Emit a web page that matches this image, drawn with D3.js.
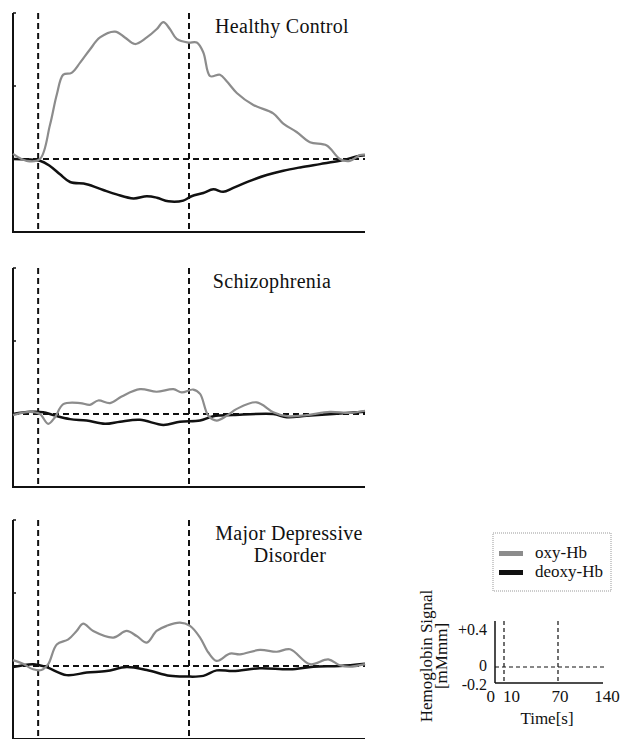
<!DOCTYPE html>
<html>
<head>
<meta charset="utf-8">
<script src="https://cdn.jsdelivr.net/npm/d3@7"></script>
</head>
<body style="margin:0">
<div id="chart"></div>
<script>
var width = 623, height = 739;
var serif = "'Liberation Serif'";

// time [s], signal [mM mm]
var groups = ["Healthy Control", "Schizophrenia", "Major Depressive Disorder"];
var markers = [10, 70];
var yTicks = [0.2, 0.4];

var hcOxy = [[0,0.014],[5.4,-0.005],[10.7,0],[14.7,0.093],[17.4,0.176],[20,0.231],[23.3,0.236],[26.7,0.264],[30.6,0.30],[34.6,0.333],[40.6,0.349],[44.5,0.333],[48.5,0.315],[53.2,0.333],[57.2,0.356],[59.8,0.375],[62.4,0.356],[65.1,0.329],[69.7,0.319],[73.1,0.319],[75.7,0.292],[78.4,0.227],[82.3,0.231],[85,0.213],[89,0.181],[95.6,0.148],[103.5,0.125],[107.5,0.097],[112.8,0.074],[118.1,0.046],[124.8,0.037],[130,0],[134,-0.005],[138,0.011],[140,0.012]];
var hcDeoxy = [[0,0],[10.7,-0.005],[14.7,-0.019],[18.7,-0.042],[22.7,-0.063],[29.3,-0.069],[35.9,-0.085],[41.2,-0.097],[47.9,-0.108],[53.2,-0.102],[57.2,-0.106],[61.8,-0.116],[67.7,-0.114],[71,-0.102],[75.7,-0.093],[79.7,-0.083],[83.6,-0.09],[87.6,-0.079],[94.3,-0.06],[100.9,-0.044],[107.5,-0.032],[114.2,-0.023],[122.1,-0.014],[130,-0.005],[138,0.009],[140,0.01]];

var szOxy = [[0,-0.003],[6.8,0.006],[10.7,0],[14,-0.027],[16.7,-0.009],[20,0.027],[26.7,0.03],[30.6,0.025],[33.9,0.037],[38.6,0.03],[43.2,0.048],[50.5,0.068],[57.1,0.061],[63.8,0.068],[67.1,0.059],[71.7,0.067],[74.4,0.055],[77.7,-0.005],[81,-0.018],[85,-0.005],[89,0.014],[96.9,0.032],[103.5,0.005],[108.9,-0.006],[116.8,-0.003],[126,0.006],[134,0.003],[140,0.009]];
var szDeoxy = [[0,0],[6.8,0.006],[12,0.005],[16,-0.003],[22.7,-0.014],[29.3,-0.018],[36.6,-0.027],[42.6,-0.021],[50.5,-0.016],[59.8,-0.03],[66.4,-0.021],[74.4,-0.018],[79.7,-0.006],[87.6,-0.003],[103.5,0],[108.9,-0.009],[116.8,-0.005],[127.4,0],[140,0.006]];

var mdOxy = [[0,0.016],[4,0.006],[8,-0.009],[11.3,-0.011],[14,0.005],[17.4,0.059],[22,0.073],[25.3,0.096],[27.9,0.116],[31.9,0.096],[39.9,0.078],[45.2,0.096],[49.2,0.082],[53.2,0.064],[57.1,0.096],[61.1,0.11],[66.4,0.119],[70.4,0.11],[74.4,0.078],[77.7,0.037],[81,0.014],[86.3,0.034],[90.3,0.032],[98.2,0.044],[104.9,0.039],[110.2,0.046],[118.1,0.005],[125.4,0.018],[130,0.002],[134,-0.002],[140,0.005]];
var mdDeoxy = [[0,-0.003],[8,0.005],[13.3,-0.003],[21.3,-0.025],[29.3,-0.018],[37.2,-0.014],[45.2,-0.003],[53.2,-0.011],[62.4,-0.027],[69,-0.029],[75.7,-0.027],[81,-0.012],[87.6,-0.014],[98.2,-0.006],[110.2,-0.009],[119.4,-0.002],[130,0],[140,0.006]];

var oxySeries = [hcOxy, szOxy, mdOxy];
var deoxySeries = [hcDeoxy, szDeoxy, mdDeoxy];

// key
var legendLabels = ["oxy-Hb", "deoxy-Hb"];
var keyXTicks = [0, 10, 70, 140];
var keyYTicks = [["+0.4", 0.4], ["0", 0], ["-0.2", -0.2]];

var oxyColor = "#8c8c8c", deoxyColor = "#111";

var svg = d3.select("#chart").append("svg")
    .attr("width", width)
    .attr("height", height);

var panelTops = [13, 268, 520];
var panelH = 219;

var x = d3.scaleLinear().domain([0, 140]).range([13, 365]);

panelTops.forEach(function (top, i) {
  var y = d3.scaleLinear().domain([-0.2, 0.4]).range([top + panelH, top]);
  var g = svg.append("g").attr("class", "panel");

  // axes
  g.append("line")
      .attr("x1", x(0)).attr("x2", x(0))
      .attr("y1", y(0.4)).attr("y2", y(-0.2))
      .attr("stroke", "#111").attr("stroke-width", 2);
  g.append("line")
      .attr("x1", x(0) - 1).attr("x2", x(140))
      .attr("y1", y(-0.2)).attr("y2", y(-0.2))
      .attr("stroke", "#111").attr("stroke-width", 2);
  g.selectAll(".ytick")
      .data(yTicks)
      .enter().append("line")
      .attr("x1", x(0)).attr("x2", x(0) + 3)
      .attr("y1", function (d) { return y(d); })
      .attr("y2", function (d) { return y(d); })
      .attr("stroke", "#111").attr("stroke-width", 1.5);

  // task markers and baseline
  g.selectAll(".marker")
      .data(markers)
      .enter().append("line")
      .attr("x1", function (d) { return x(d); })
      .attr("x2", function (d) { return x(d); })
      .attr("y1", y(0.4)).attr("y2", y(-0.2))
      .attr("stroke", "#111").attr("stroke-width", 2)
      .attr("stroke-dasharray", "6,4");
  g.append("line")
      .attr("x1", x(0)).attr("x2", x(140))
      .attr("y1", y(0)).attr("y2", y(0))
      .attr("stroke", "#111").attr("stroke-width", 2)
      .attr("stroke-dasharray", "6,4");

  var line = d3.line()
      .x(function (d) { return x(d[0]); })
      .y(function (d) { return y(d[1]); })
      .curve(d3.curveCatmullRom);

  g.append("path")
      .attr("d", line(deoxySeries[i]))
      .attr("fill", "none").attr("stroke", deoxyColor).attr("stroke-width", 2.5);
  g.append("path")
      .attr("d", line(oxySeries[i]))
      .attr("fill", "none").attr("stroke", oxyColor).attr("stroke-width", 2.2);
});

// all text goes through here so the serif face sticks
function label(parent, txt, size) {
  return parent.append("text")
      .attr("font-family", "Liberation Serif")
      .style("font-family", serif)
      .style("font-size", size + "px")
      .attr("fill", "#111")
      .text(txt);
}

// titles
function title(txt, cx, cy) {
  label(svg, txt, 20).attr("x", cx).attr("y", cy)
      .attr("text-anchor", "middle").style("letter-spacing", "0.3px");
}
title(groups[0], 282, 33);
title(groups[1], 272, 288);
title("Major Depressive", 289, 540);
title("Disorder", 290, 562);

// legend
var legend = svg.append("g");
legend.append("rect")
    .attr("x", 493).attr("y", 533).attr("width", 118).attr("height", 58)
    .attr("fill", "none").attr("stroke", "#999").attr("stroke-width", 1)
    .attr("stroke-dasharray", "1,1");
legendLabels.forEach(function (d, i) {
  legend.append("rect")
      .attr("x", 499).attr("y", 551 + i * 19)
      .attr("width", 24).attr("height", 5)
      .attr("fill", i ? deoxyColor : oxyColor);
  label(legend, d, 17).attr("x", 535).attr("y", 558 + i * 19);
});

// key axes
var kx = d3.scaleLinear().domain([0, 10, 70, 140]).range([495, 504, 558, 603]);
var ky = d3.scaleLinear().domain([-0.2, 0, 0.4]).range([683, 667, 630]);
var key = svg.append("g");
key.append("line").attr("x1", kx(0)).attr("x2", kx(0)).attr("y1", 621).attr("y2", ky(-0.2))
    .attr("stroke", "#111").attr("stroke-width", 1.5);
key.append("line").attr("x1", kx(0)).attr("x2", kx(140)).attr("y1", ky(-0.2)).attr("y2", ky(-0.2))
    .attr("stroke", "#111").attr("stroke-width", 1.5);
key.selectAll(".km")
    .data(markers)
    .enter().append("line")
    .attr("x1", function (d) { return kx(d); }).attr("x2", function (d) { return kx(d); })
    .attr("y1", 621).attr("y2", ky(-0.2))
    .attr("stroke", "#111").attr("stroke-width", 1.2).attr("stroke-dasharray", "4,3");
key.append("line").attr("x1", kx(0)).attr("x2", kx(140) + 2).attr("y1", ky(0)).attr("y2", ky(0))
    .attr("stroke", "#111").attr("stroke-width", 1.2).attr("stroke-dasharray", "4,3");

var kyShift = [5, 4, 7];
keyYTicks.forEach(function (d, i) {
  label(key, d[0], 16).attr("x", 487).attr("y", ky(d[1]) + kyShift[i])
      .attr("text-anchor", "end");
});
var kxAnchor = ["end", "start", "middle", "middle"];
var kxShift = [0, -1, 2, 4];
keyXTicks.forEach(function (d, i) {
  label(key, d, 17).attr("x", kx(d) + kxShift[i]).attr("y", 702)
      .attr("text-anchor", kxAnchor[i]);
});
label(key, "Time[s]", 17).attr("x", 547).attr("y", 724).attr("text-anchor", "middle");
label(key, "Hemoglobin Signal", 17)
    .attr("transform", "translate(432,656) rotate(-90)")
    .attr("text-anchor", "middle");
label(key, "[mMmm]", 17)
    .attr("transform", "translate(447,656) rotate(-90)")
    .attr("text-anchor", "middle");
</script>
</body>
</html>
